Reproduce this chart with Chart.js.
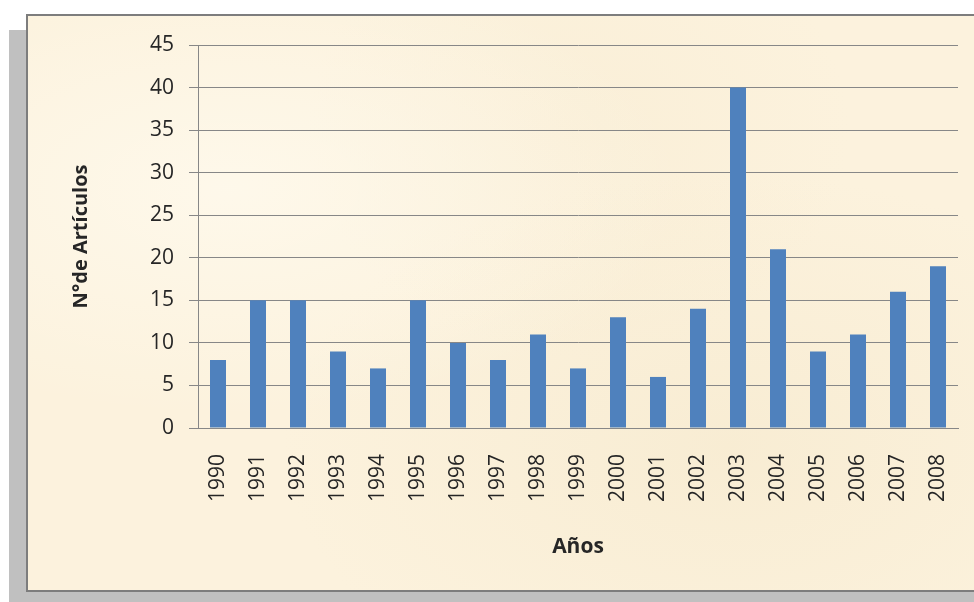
<!DOCTYPE html>
<html>
<head>
<meta charset="utf-8">
<title>Artículos por año</title>
<script src="https://cdn.jsdelivr.net/npm/chart.js@4"></script>
<style>
  html, body { margin: 0; padding: 0; background: #fff; overflow: hidden; }
  #shadow {
    position: absolute; left: 9px; top: 30px; width: 1000px; height: 600px;
    background: #c0c0c0;
  }
  #panel {
    position: absolute; left: 26px; top: 14px; width: 1000px; height: 574px;
    border: 2px solid #7d7d7d;
    background:
      radial-gradient(ellipse at 20% 30%, rgba(255,251,240,0.7), rgba(255,251,240,0) 40%),
      radial-gradient(ellipse at 70% 75%, rgba(242,228,196,0.4), rgba(242,228,196,0) 45%),
      radial-gradient(ellipse at 55% 20%, rgba(246,233,205,0.35), rgba(246,233,205,0) 35%),
      #fcf2dd;
  }
  #wrap { position: absolute; left: 0; top: 0; width: 974px; height: 602px; }
</style>
</head>
<body>
<div id="shadow"></div>
<div id="panel"></div>
<div id="wrap"><canvas id="articulosChart"></canvas></div>
<script>
// artículos publicados por año
const years = ["1990", "1991", "1992", "1993", "1994", "1995", "1996", "1997", "1998", "1999",
  "2000", "2001", "2002", "2003", "2004", "2005", "2006", "2007", "2008"];
const articles = [8, 15, 15, 9, 7, 15, 10, 8, 11, 7, 13, 6, 14, 40, 21, 9, 11, 16, 19];
const yTicks = [0, 5, 10, 15, 20, 25, 30, 35, 40, 45];

const gridColor = "#878787";
const textColor = "#262626";

const ctx = document.getElementById("articulosChart");
const chart = new Chart(ctx, {
  type: "bar",
  data: {
    labels: years,
    datasets: [
      {
        data: articles,
        backgroundColor: "#4f81bd",
        borderWidth: 0,
        barPercentage: 0.4,
        categoryPercentage: 1.0,
      },
    ],
  },
  options: {
    responsive: true,
    maintainAspectRatio: false,
    animation: false,
    layout: {
      padding: { left: 65, right: 16, top: 45, bottom: 38 },
    },
    plugins: {
      legend: { display: false },
      tooltip: { enabled: false },
    },
    scales: {
      x: {
        grid: { display: false, drawTicks: false },
        border: { display: true, color: gridColor, width: 1 },
        ticks: {
          color: textColor,
          font: { family: "Open Sans", size: 21 },
          minRotation: 90,
          maxRotation: 90,
          padding: 26,
          autoSkip: false,
        },
        title: {
          display: true,
          text: "Años",
          color: textColor,
          font: { family: "Open Sans", size: 21, weight: "bold" },
        },
        afterFit: (scale) => {
          scale.height = 136;
          // rotated labels fit inside the category, no extra side room
          scale.paddingLeft = 0;
          scale.paddingRight = 0;
        },
      },
      y: {
        min: 0,
        max: 45,
        afterBuildTicks: (scale) => {
          scale.ticks = yTicks.map((v) => ({ value: v }));
        },
        grid: {
          color: gridColor,
          lineWidth: 1,
          tickLength: 9,
          tickColor: gridColor,
        },
        border: { display: true, color: gridColor, width: 1 },
        ticks: {
          color: textColor,
          font: { family: "Open Sans", size: 21 },
          padding: 15,
        },
        title: {
          display: true,
          text: "N°de Artículos",
          color: textColor,
          font: { family: "Open Sans", size: 20, weight: "bold" },
        },
        afterFit: (scale) => {
          scale.width = 133;
        },
      },
    },
  },
});
</script>
</body>
</html>
